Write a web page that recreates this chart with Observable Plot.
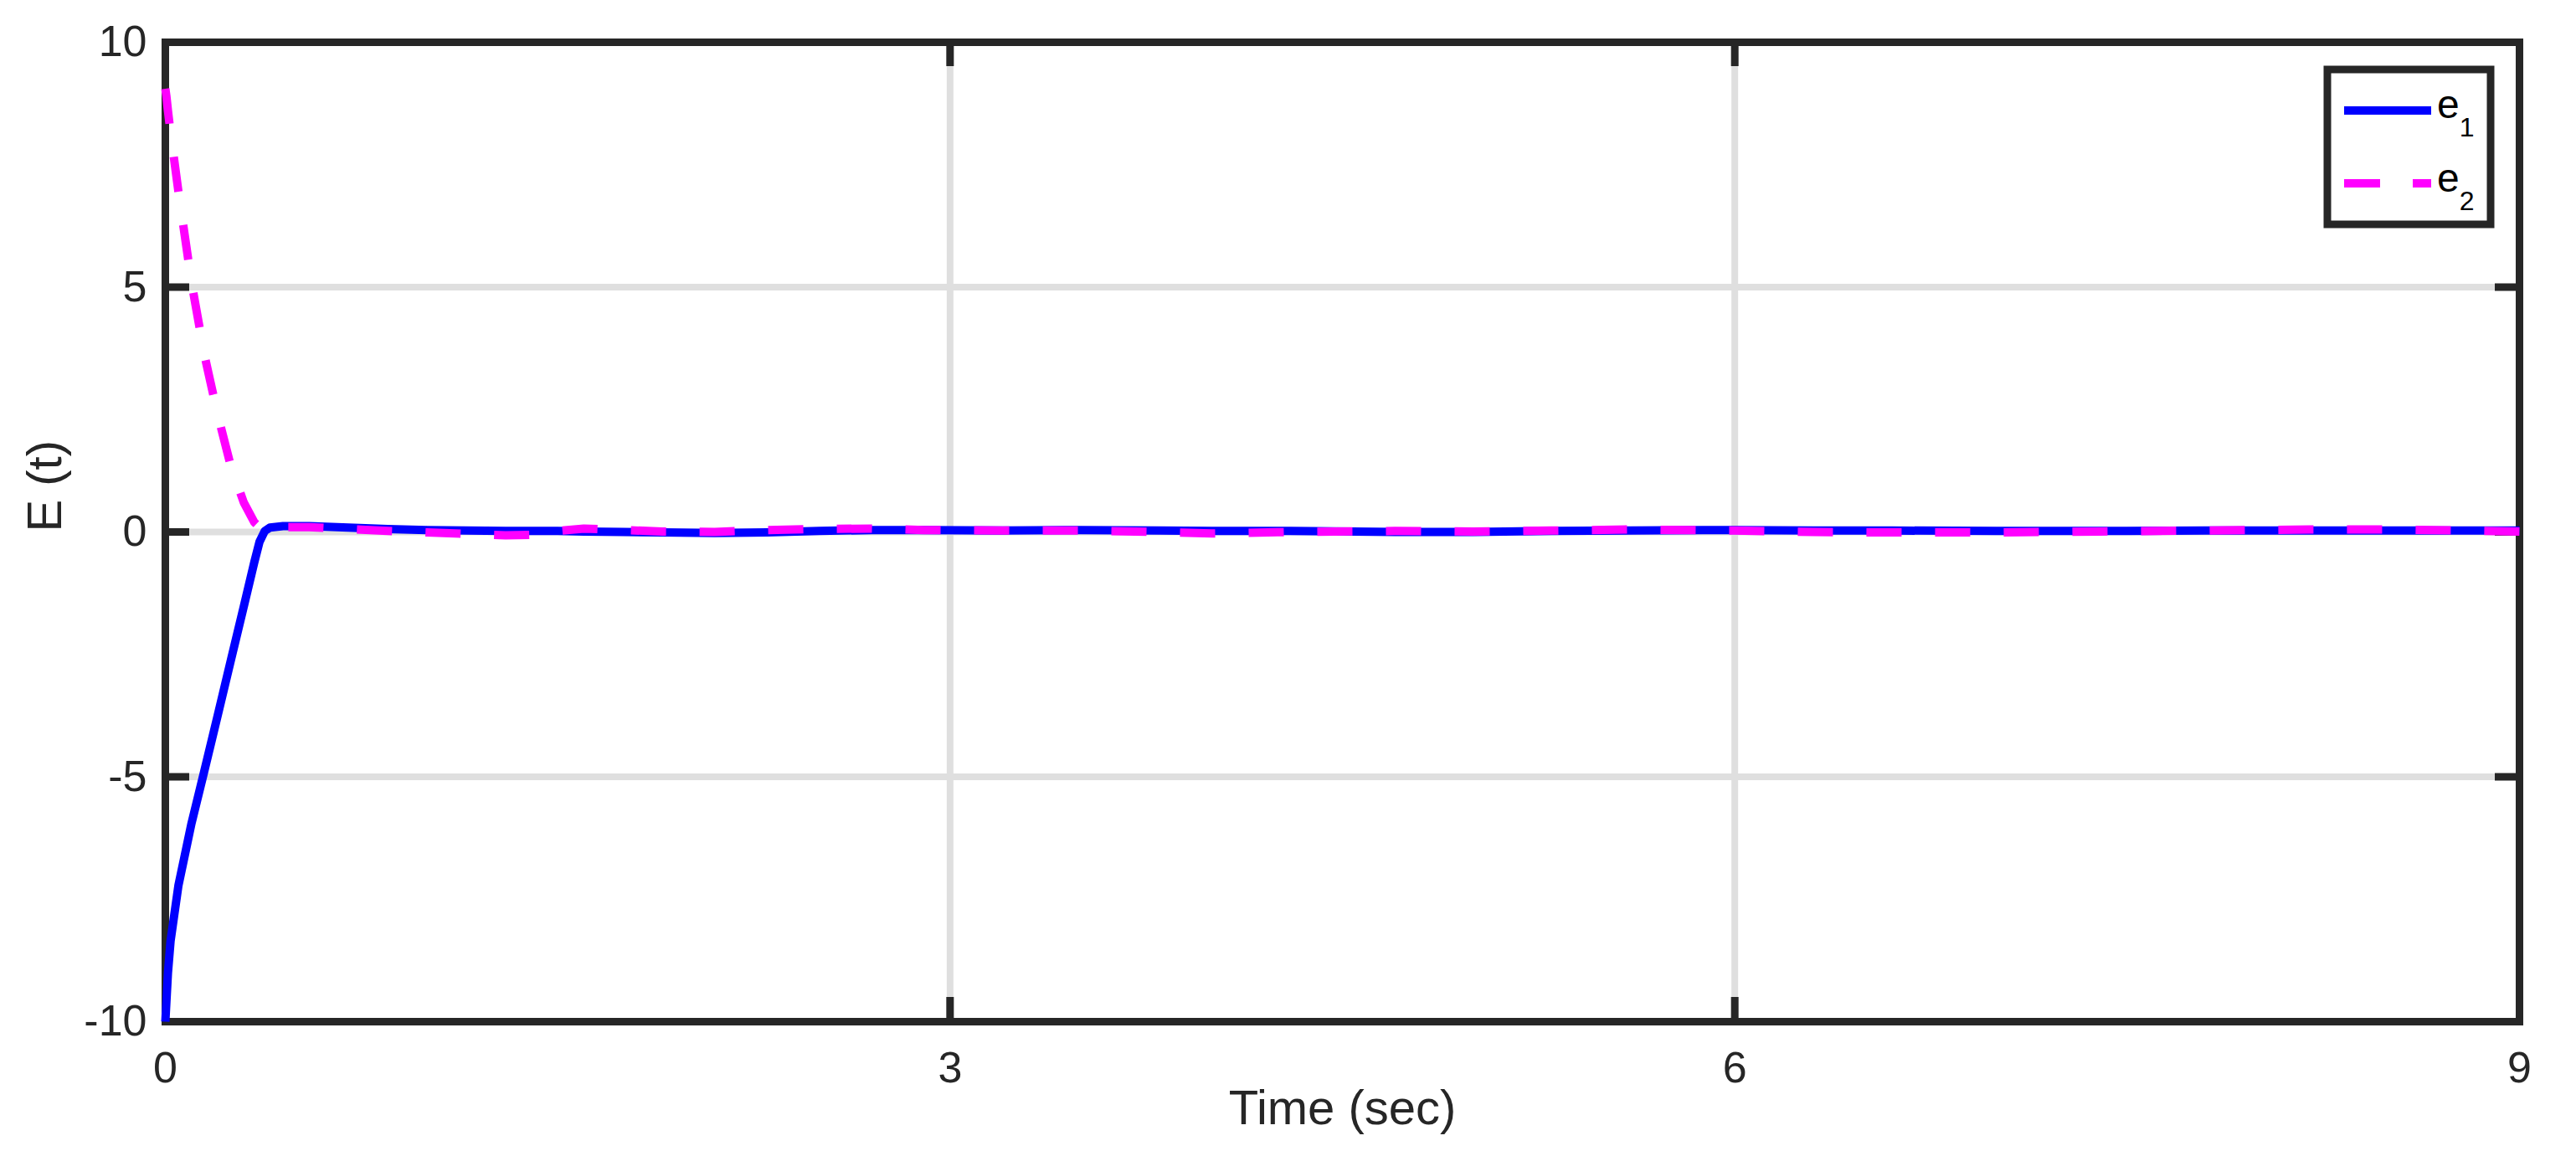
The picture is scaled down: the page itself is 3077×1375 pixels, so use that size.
<!DOCTYPE html>
<html>
<head>
<meta charset="utf-8">
<script src="https://cdn.jsdelivr.net/npm/d3@7"></script>
<script src="https://cdn.jsdelivr.net/npm/@observablehq/plot@0.6"></script>
<style>
  html, body { margin: 0; padding: 0; background: #ffffff; }
  #chart svg { display: block; }
</style>
</head>
<body>
<div id="chart"></div>
<script>
// ---- data ----
const time = [0, 0.004, 0.01, 0.02, 0.05, 0.1, 0.15, 0.2, 0.25, 0.3, 0.34, 0.36, 0.38, 0.40, 0.45, 0.55, 0.7, 0.85, 1.0, 1.15, 1.3, 1.4, 1.5, 1.6, 1.75, 1.9, 2.1, 2.3, 2.5, 2.7, 2.9, 3.2, 3.5, 3.8, 4.0, 4.3, 4.7, 5.0, 5.3, 5.6, 6.0, 6.3, 6.6, 7.0, 7.4, 7.8, 8.2, 8.5, 8.8, 9.0];
const e1 = [-10.0, -9.6, -9.0, -8.35, -7.22, -5.95, -4.86, -3.75, -2.63, -1.52, -0.62, -0.2, 0.02, 0.09, 0.12, 0.12, 0.09, 0.06, 0.04, 0.03, 0.02, 0.02, 0.02, 0.01, 0.0, -0.01, -0.02, -0.01, 0.02, 0.04, 0.04, 0.03, 0.04, 0.03, 0.02, 0.02, 0.0, 0.0, 0.02, 0.03, 0.04, 0.03, 0.03, 0.02, 0.02, 0.03, 0.03, 0.03, 0.03, 0.03];
const e2 = [9.05, 8.9, 8.6, 8.15, 6.95, 5.1, 3.6, 2.4, 1.35, 0.6, 0.2, 0.1, 0.07, 0.08, 0.1, 0.1, 0.06, 0.02, -0.01, -0.04, -0.07, -0.06, 0.02, 0.07, 0.04, 0.01, 0.0, 0.04, 0.06, 0.07, 0.04, 0.03, 0.03, 0.0, -0.03, 0.0, 0.02, 0.01, 0.03, 0.05, 0.03, 0.0, -0.01, -0.01, 0.01, 0.03, 0.05, 0.05, 0.03, 0.01];
const xTicks = [0, 3, 6, 9];
const yTicks = [-10, -5, 0, 5, 10];
const xGrid = [3, 6];
const yGrid = [-5, 0, 5];
const seriesLabels = ["1", "2"];   // subscripts of e
const xLabel = "Time (sec)";
const yLabel = "E (t)";

// ---- layout / style ----
const W = 3077, H = 1375;
const mL = 197, mR = 68, mT = 50, mB = 155;
const fw = W - mL - mR, fh = H - mT - mB;
const ink = "#262626";
const gridColor = "#dfdfdf";
const font = "'Liberation Sans', Arial, Helvetica, sans-serif";
const tickLen = 29;

const rows1 = time.map((t, i) => ({t, v: e1[i]}));
const rows2 = time.map((t, i) => ({t, v: e2[i]}));

const plot = Plot.plot({
  width: W, height: H,
  marginLeft: mL, marginRight: mR, marginTop: mT, marginBottom: mB,
  style: {fontFamily: font, background: "#ffffff", color: ink},
  x: {domain: [0, 9]},
  y: {domain: [-10, 10]},
  marks: [
    Plot.gridX(xGrid, {stroke: gridColor, strokeOpacity: 1, strokeWidth: 8}),
    Plot.gridY(yGrid, {stroke: gridColor, strokeOpacity: 1, strokeWidth: 8}),
    Plot.tickX(xTicks, {x: d => d, stroke: ink, strokeWidth: 9, insetTop: fh - tickLen}),
    Plot.tickX(xTicks, {x: d => d, stroke: ink, strokeWidth: 9, insetBottom: fh - tickLen}),
    Plot.tickY(yTicks, {y: d => d, stroke: ink, strokeWidth: 9, insetRight: fw - tickLen}),
    Plot.tickY(yTicks, {y: d => d, stroke: ink, strokeWidth: 9, insetLeft: fw - tickLen}),
    Plot.axisX(xTicks, {tickSize: 0, tickPadding: 36, fontSize: 52, label: null, fill: ink, tickFormat: d => String(d)}),
    Plot.axisY(yTicks, {tickSize: 0, tickPadding: 22, fontSize: 52, label: null, fill: ink, tickFormat: d => String(d)}),
    Plot.frame({stroke: ink, strokeWidth: 9}),
    Plot.line(rows1, {x: "t", y: "v", stroke: "#0000ff", strokeWidth: 10, strokeLinejoin: "round", strokeLinecap: "butt"}),
    Plot.line(rows2, {x: "t", y: "v", stroke: "#ff00ff", strokeWidth: 10, strokeDasharray: "42,40", strokeLinejoin: "round", strokeLinecap: "butt"}),
    Plot.text([xLabel], {text: d => d, frameAnchor: "bottom", dy: 122, lineAnchor: "bottom", fontSize: 58, fill: ink}),
    Plot.text([yLabel], {text: d => d, frameAnchor: "left", dx: -125, rotate: -90, lineAnchor: "bottom", fontSize: 58, fill: ink})
  ]
});

document.getElementById("chart").appendChild(plot);

// ---- legend (inside the axes, top-right) ----
const svg = d3.select(plot);
const lg = svg.append("g")
  .attr("font-family", font)
  .attr("fill", "#000000")
  .attr("text-anchor", "start");
lg.append("rect")
  .attr("x", 2780).attr("y", 83).attr("width", 195).attr("height", 185)
  .attr("fill", "#ffffff").attr("stroke", ink).attr("stroke-width", 9);
const legendRows = [
  {color: "#0000ff", dash: null, ly: 132, base: 141},
  {color: "#ff00ff", dash: "43,39", ly: 219, base: 229}
];
legendRows.forEach((r, i) => {
  const ln = lg.append("line")
    .attr("x1", 2800).attr("x2", 2904).attr("y1", r.ly).attr("y2", r.ly)
    .attr("stroke", r.color).attr("stroke-width", 10).attr("stroke-linecap", "butt");
  if (r.dash) ln.attr("stroke-dasharray", r.dash);
  const t = lg.append("text")
    .attr("x", 2911).attr("y", r.base)
    .attr("text-anchor", "start")
    .style("font-size", "48px");
  t.append("tspan").text("e");
  t.append("tspan").style("font-size", "32px").attr("dy", 22).text(seriesLabels[i]);
});
</script>
</body>
</html>
